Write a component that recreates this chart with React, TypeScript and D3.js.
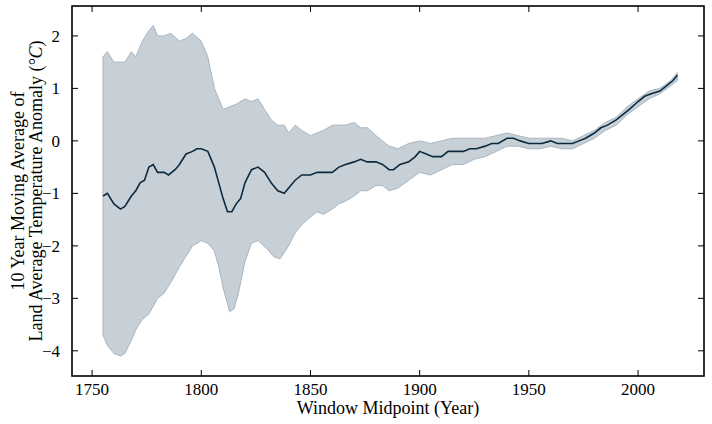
import * as d3 from "d3"

const meanYears = [1755,1757,1760,1763,1765,1768,1770,1772,1774,1776,1778,1780,1783,1785,1788,1790,1793,1796,1798,1800,1803,1806,1808,1810,1812,1814,1816,1818,1820,1823,1826,1829,1832,1835,1838,1840,1843,1846,1850,1853,1856,1860,1863,1866,1870,1873,1876,1880,1883,1886,1888,1891,1895,1898,1900,1903,1906,1910,1913,1916,1920,1923,1926,1930,1933,1936,1940,1943,1946,1950,1953,1956,1960,1963,1966,1970,1973,1976,1980,1983,1986,1990,1993,1996,2000,2003,2006,2010,2013,2016,2018]
const meanVals = [-1.05,-1.0,-1.2,-1.3,-1.25,-1.05,-0.95,-0.8,-0.75,-0.5,-0.45,-0.6,-0.6,-0.65,-0.55,-0.45,-0.25,-0.2,-0.15,-0.15,-0.2,-0.5,-0.8,-1.1,-1.35,-1.35,-1.2,-1.1,-0.8,-0.55,-0.5,-0.6,-0.8,-0.95,-1.0,-0.9,-0.75,-0.65,-0.65,-0.6,-0.6,-0.6,-0.5,-0.45,-0.4,-0.35,-0.4,-0.4,-0.45,-0.55,-0.55,-0.45,-0.4,-0.3,-0.2,-0.25,-0.3,-0.3,-0.2,-0.2,-0.2,-0.15,-0.15,-0.1,-0.05,-0.05,0.05,0.05,0.0,-0.05,-0.05,-0.05,0.0,-0.05,-0.05,-0.05,0.0,0.05,0.15,0.25,0.3,0.4,0.5,0.6,0.75,0.85,0.9,0.95,1.05,1.15,1.25]

const upperYears = [1755,1757,1760,1765,1768,1770,1773,1776,1778,1780,1783,1786,1790,1793,1796,1800,1803,1806,1808,1810,1813,1816,1820,1823,1826,1829,1832,1835,1838,1840,1843,1846,1850,1853,1856,1860,1863,1866,1870,1873,1876,1880,1883,1886,1890,1895,1900,1905,1910,1915,1920,1925,1930,1935,1940,1945,1950,1955,1960,1965,1970,1975,1980,1985,1990,1995,2000,2005,2010,2015,2018]
const upperVals = [1.6,1.7,1.5,1.5,1.7,1.6,1.9,2.1,2.2,2.0,2.0,2.05,1.9,1.95,2.05,1.9,1.6,1.0,0.8,0.6,0.65,0.7,0.8,0.75,0.8,0.6,0.4,0.3,0.3,0.15,0.3,0.2,0.1,0.15,0.2,0.3,0.3,0.3,0.35,0.25,0.25,0.1,0.0,-0.1,-0.15,-0.05,0.0,-0.05,0.0,0.05,0.05,0.05,0.05,0.1,0.15,0.1,0.05,0.05,0.05,0.05,0.0,0.1,0.2,0.35,0.45,0.65,0.8,0.95,1.0,1.15,1.3]

const lowerYears = [1755,1757,1760,1763,1765,1768,1770,1773,1776,1780,1783,1786,1790,1793,1796,1800,1803,1806,1808,1810,1813,1815,1817,1820,1823,1826,1830,1833,1836,1840,1843,1846,1850,1853,1856,1860,1863,1866,1870,1873,1876,1880,1883,1886,1890,1895,1900,1905,1910,1915,1920,1925,1930,1935,1940,1945,1950,1955,1960,1965,1970,1975,1980,1985,1990,1995,2000,2005,2010,2015,2018]
const lowerVals = [-3.7,-3.9,-4.05,-4.1,-4.05,-3.8,-3.6,-3.4,-3.3,-3.0,-2.9,-2.7,-2.4,-2.2,-2.0,-1.9,-1.95,-2.1,-2.4,-2.8,-3.25,-3.2,-2.9,-2.3,-1.95,-1.9,-2.05,-2.2,-2.25,-2.0,-1.75,-1.6,-1.45,-1.35,-1.4,-1.3,-1.2,-1.15,-1.05,-0.95,-0.95,-0.85,-0.85,-0.95,-0.9,-0.75,-0.6,-0.65,-0.55,-0.45,-0.45,-0.35,-0.3,-0.2,-0.1,-0.1,-0.15,-0.15,-0.1,-0.15,-0.15,-0.05,0.05,0.2,0.3,0.5,0.65,0.8,0.9,1.05,1.15]

const xTicks = [1750, 1800, 1850, 1900, 1950, 2000]
const yTicks = [-4, -3, -2, -1, 0, 1, 2]

const W = 712, H = 424
const L = 72, R = 704, T = 6, B = 376
const font = "'Liberation Serif', 'DejaVu Serif', serif"

export default function App() {
  const x = d3.scaleLinear().domain([1740.8, 2030.2]).range([L, R])
  const y = d3.scaleLinear().domain([-4.48, 2.57]).range([B, T])

  const upper = upperYears.map((yr, i) => [yr, upperVals[i]] as [number, number])
  const lower = lowerYears.map((yr, i) => [yr, lowerVals[i]] as [number, number])
  const bandPts = [...upper, ...lower.slice().reverse()]
  const band = d3.line<[number, number]>().x(d => x(d[0])).y(d => y(d[1]))(bandPts) + "Z"
  const mean = d3.line<number>().x(d => x(d)).y((_, i) => y(meanVals[i]))(meanYears) || ""

  return (
    <svg width={W} height={H} style={{ position: "absolute", left: 0, top: 0 }} fontFamily={font}>
      <rect width={W} height={H} fill="#fff" />
      <path d={band} fill="#c8d0d7" stroke="#a8b5c1" strokeWidth={1} />
      <path d={mean} fill="none" stroke="#0b2a3f" strokeWidth={1.6} />
      {xTicks.map(t => (
        <g key={t}>
          <line x1={x(t)} x2={x(t)} y1={B} y2={B - 6} stroke="#000" />
          <line x1={x(t)} x2={x(t)} y1={T} y2={T + 6} stroke="#000" />
          <text x={x(t)} y={B + 19} fontSize={17} textAnchor="middle">{t}</text>
        </g>
      ))}
      {yTicks.map(t => (
        <g key={t}>
          <line x1={L} x2={L + 6} y1={y(t)} y2={y(t)} stroke="#000" />
          <line x1={R} x2={R - 6} y1={y(t)} y2={y(t)} stroke="#000" />
          <text x={L - 12} y={y(t) + 6} fontSize={17} textAnchor="end">{t < 0 ? "\u2212" + Math.abs(t) : t}</text>
        </g>
      ))}
      <rect x={L} y={T} width={R - L} height={B - T} fill="none" stroke="#000" strokeWidth={1.6} />
      <text x={(L + R) / 2} y={414} fontSize={18} textAnchor="middle">Window Midpoint (Year)</text>
      <g transform={`translate(24,${(T + B) / 2}) rotate(-90)`}>
        <text x={0} y={0} fontSize={18} textAnchor="middle">10 Year Moving Average of</text>
        <text x={0} y={18} fontSize={18} textAnchor="middle">
          Land Average Temperature Anomaly (<tspan fontStyle="italic">°C</tspan>)
        </text>
      </g>
    </svg>
  )
}
